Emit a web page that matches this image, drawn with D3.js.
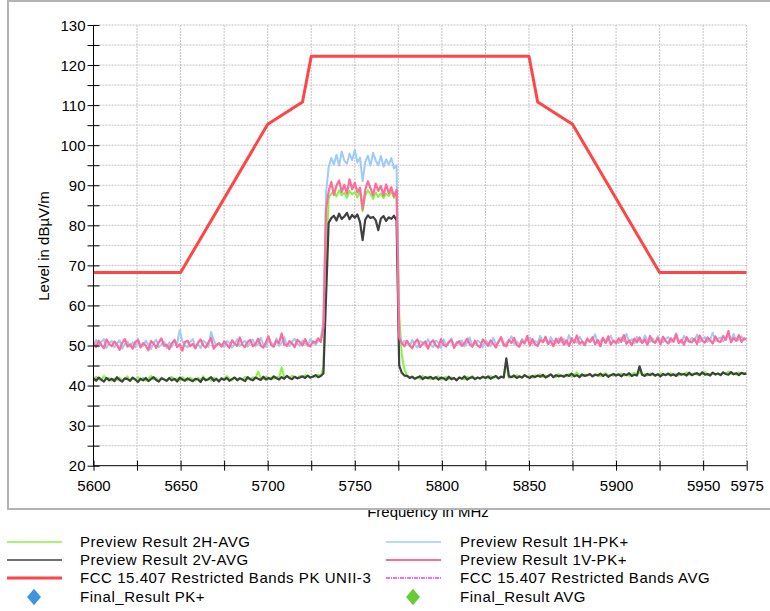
<!DOCTYPE html>
<html>
<head>
<meta charset="utf-8">
<script src="https://cdn.jsdelivr.net/npm/d3@7"></script>
<style>
  html, body { margin: 0; padding: 0; background: #fff; }
  svg { display: block; font-family: "Liberation Sans", Arial, sans-serif; }
</style>
</head>
<body>
<svg id="chart" width="770" height="611"></svg>
<script>
// ---------------- DATA ----------------
const xDomain = [5600, 5975];
const yDomain = [20, 130];
const xTickValues = [5600,5625,5650,5675,5700,5725,5750,5775,5800,5825,5850,5875,5900,5925,5950,5975];
const xTickLabels = [5600,5650,5700,5750,5800,5850,5900,5950,5975];
const yTickValues = [20,25,30,35,40,45,50,55,60,65,70,75,80,85,90,95,100,105,110,115,120,125,130];
const yTickLabels = [20,30,40,50,60,70,80,90,100,110,120,130];

// FCC 15.407 Restricted Bands PK UNII-3 limit line
const limitFreq  = [5600, 5650, 5700, 5720, 5725, 5850, 5855, 5875, 5925, 5975];
const limitLevel = [68.2, 68.2, 105.2, 110.8, 122.2, 122.2, 110.8, 105.2, 68.2, 68.2];

// sweep: 5600 MHz .. 5975 MHz, 1.5 MHz per point (251 points)
const sweepStart = 5600;
const sweepStep = 1.5;

const preview1V_PK = [
50.8,49.6,51.2,50.1,49.3,51.5,50.4,49.8,51.0,50.2,
48.9,50.7,51.6,49.7,50.3,49.2,50.9,51.3,49.5,50.6,
50.0,48.8,51.1,50.5,49.4,50.8,51.8,49.9,50.2,49.1,
50.6,51.4,49.6,50.3,48.7,50.9,51.2,49.8,50.4,49.3,
50.7,51.5,50.0,49.5,50.8,51.9,49.2,50.1,50.6,49.7,
51.0,50.3,49.4,51.3,50.5,49.9,52.0,50.2,49.6,50.9,
51.4,49.8,50.4,51.7,50.0,49.5,50.8,52.3,50.1,49.7,
51.2,50.6,53.0,50.3,49.9,51.1,50.5,49.6,51.4,50.8,
50.0,51.6,50.2,49.8,51.0,50.7,51.8,50.9,54.5,84.0,
88.5,90.8,87.6,89.9,91.2,88.3,90.1,87.9,91.5,89.0,
90.6,88.2,89.4,84.0,88.8,91.0,89.3,87.5,90.4,88.6,
89.8,87.4,90.2,88.0,89.5,87.2,88.9,52.0,50.6,49.8,
51.2,50.1,49.3,50.8,51.5,49.6,50.4,51.0,49.2,50.7,
51.3,50.0,49.5,51.6,50.2,49.8,50.9,51.4,49.4,50.5,
51.1,49.9,50.6,51.7,50.3,49.7,51.2,50.0,49.6,51.5,
50.8,49.9,51.3,50.4,49.5,51.0,52.1,50.2,49.8,51.4,
50.6,51.9,50.1,49.7,51.2,50.5,52.4,50.0,51.6,50.3,
49.9,51.4,50.8,52.2,50.4,51.1,49.8,51.7,50.6,52.0,
50.2,51.3,49.9,51.8,50.7,52.5,50.4,51.0,50.1,51.6,
50.9,52.1,50.3,51.4,49.8,51.9,50.6,52.3,50.2,51.2,
50.5,51.8,50.9,52.6,50.4,51.3,50.1,51.7,50.8,52.0,
50.6,51.5,50.2,52.4,51.0,50.7,51.9,50.3,52.2,51.1,
50.5,51.8,50.9,52.7,50.6,51.4,50.2,52.1,51.0,50.8,
51.7,50.4,52.5,51.2,50.7,52.0,51.3,50.5,52.3,51.1,
50.9,52.4,51.4,53.6,50.8,51.9,51.2,52.6,50.9,51.8,
51.5];

const preview1H_PK = [
50.2,51.4,49.8,50.9,51.6,49.4,50.7,51.1,49.6,50.5,
51.3,49.2,50.4,51.0,49.7,50.8,49.5,51.7,50.1,49.9,
51.2,50.3,49.1,50.6,51.5,49.6,50.2,51.0,49.4,50.8,
49.7,51.3,50.5,53.8,51.1,50.0,49.5,50.9,51.6,49.8,
50.4,49.3,51.2,50.7,49.6,53.4,51.4,49.9,50.5,50.2,
49.6,51.1,50.8,49.5,50.3,51.6,49.9,50.6,51.2,49.7,
50.9,51.5,49.8,50.4,51.9,50.2,49.6,51.3,50.7,50.0,
51.8,49.9,50.6,52.1,50.3,49.8,51.0,51.7,50.4,49.9,
51.3,50.5,49.9,51.6,50.8,50.2,51.1,51.9,56.0,88.0,
94.5,96.8,95.2,97.6,94.9,98.4,96.1,95.4,97.9,96.3,
98.8,95.7,96.9,91.0,95.8,97.4,94.9,98.1,96.2,95.0,
97.3,94.6,96.5,95.1,96.8,94.2,95.0,53.0,50.4,51.2,
50.6,49.8,51.4,50.2,49.5,51.1,50.7,49.9,51.6,50.3,
49.6,51.2,50.8,49.4,51.5,50.1,50.6,51.8,49.7,50.9,
50.4,51.3,49.8,50.7,52.0,49.9,50.5,51.2,50.8,49.6,
51.4,50.6,49.8,51.9,50.3,50.9,51.5,49.9,50.7,51.2,
52.3,50.4,51.0,50.2,51.7,50.8,51.3,52.0,50.5,51.1,
50.7,52.4,50.9,51.5,50.3,52.1,51.0,50.6,51.8,50.9,
51.6,50.4,52.6,50.9,51.3,50.7,52.2,51.1,50.5,51.9,
50.8,51.4,52.8,50.6,51.2,51.9,50.7,51.5,52.4,50.9,
51.3,50.6,52.0,51.1,52.9,50.8,51.6,50.5,52.2,51.0,
50.7,52.5,51.3,50.9,51.8,50.6,52.3,51.2,50.8,51.7,
52.1,50.9,51.5,53.1,51.0,50.7,52.4,51.3,50.9,51.9,
51.2,52.7,50.8,51.6,52.1,50.9,51.4,53.2,51.1,51.7,
52.0,51.0,51.8,52.5,51.3,52.9,51.1,51.6,52.3,51.4,
51.8];

const preview2V_AVG = [
41.8,41.2,42.0,41.5,41.0,41.9,41.3,41.7,41.1,42.1,
41.4,41.0,41.8,41.6,41.2,42.0,41.5,40.9,41.7,41.3,
41.9,41.1,41.6,42.1,41.4,41.0,41.8,41.5,41.2,41.9,
41.3,41.7,41.0,42.0,41.5,41.2,41.8,41.4,41.1,41.7,
41.5,40.9,41.9,41.3,41.6,42.1,41.2,41.7,41.0,41.8,
41.4,41.9,41.2,41.6,42.0,41.3,41.8,41.5,41.1,42.1,
41.6,41.3,42.0,41.7,41.4,42.2,41.5,41.9,41.6,42.3,
41.8,41.5,42.1,41.7,42.4,41.9,41.6,42.2,41.8,42.0,
42.3,41.9,42.5,42.0,42.2,42.6,42.1,42.4,43.0,62.0,
80.6,81.8,82.4,81.2,82.9,81.6,82.2,83.1,81.5,82.6,
81.9,82.7,80.8,76.3,81.4,82.5,81.8,82.1,81.3,78.8,
81.7,82.3,81.1,82.0,81.6,82.4,81.2,45.0,43.2,42.5,
42.4,41.9,42.2,41.7,42.0,42.3,41.6,42.1,41.8,42.2,
41.7,42.1,41.5,42.0,41.8,41.4,42.2,41.6,41.9,41.3,
42.0,41.7,42.3,41.5,41.9,42.1,41.6,42.0,41.8,42.2,
41.9,42.3,41.7,42.1,42.4,41.8,42.2,42.0,46.8,42.3,
42.1,42.5,41.9,42.3,42.0,42.6,42.2,41.9,42.4,42.1,
42.5,42.2,42.7,42.0,42.4,42.8,42.1,42.6,42.3,42.5,
42.2,42.7,42.4,43.0,42.3,42.6,42.1,42.8,42.4,42.6,
42.9,42.3,42.7,42.5,43.0,42.4,42.8,42.2,42.6,42.9,
42.5,42.8,42.3,42.9,42.6,43.1,42.4,42.7,42.5,44.8,
42.7,42.4,42.9,42.6,43.0,42.5,42.8,42.3,42.9,42.6,
43.0,42.5,42.8,42.4,43.1,42.7,42.9,42.5,43.2,42.6,
42.9,43.1,42.6,43.3,42.7,42.9,42.5,43.2,42.8,43.0,
42.6,43.3,42.9,42.7,43.4,42.8,43.1,42.6,43.2,42.9,
43.0];

const preview2H_AVG = [
41.5,42.2,41.7,41.3,42.4,41.6,41.9,41.2,41.8,41.4,
42.0,41.3,41.7,42.3,41.1,41.8,41.5,42.1,41.4,41.9,
41.2,41.7,42.4,41.5,41.9,41.3,42.0,41.6,41.1,41.8,
42.2,41.4,41.8,41.2,42.1,41.7,41.3,42.0,41.6,41.2,
41.9,41.5,42.3,41.4,41.8,41.2,42.0,41.6,41.3,41.9,
41.5,42.4,41.7,41.3,42.0,41.6,41.9,41.4,42.2,41.7,
41.5,42.1,41.8,43.5,41.9,41.6,42.3,41.8,42.0,41.7,
42.2,41.9,44.6,42.0,42.3,41.8,42.5,42.1,41.9,42.4,
42.1,42.6,42.3,41.9,42.5,42.2,42.7,42.4,44.5,70.0,
86.8,87.9,88.4,87.2,88.8,87.5,88.1,86.9,88.6,87.7,
88.3,87.0,88.5,83.5,87.4,88.7,87.8,86.6,88.2,87.1,
88.0,86.8,87.9,87.3,88.4,86.9,87.5,58.0,47.5,44.0,
42.6,42.0,42.3,41.8,42.1,41.7,42.4,41.9,42.2,41.6,
42.0,41.7,42.3,41.5,41.9,42.2,41.6,42.0,41.8,41.4,
42.1,41.8,41.5,42.2,41.9,42.4,41.7,42.0,41.6,42.3,
42.0,41.8,42.4,41.9,42.2,41.7,42.3,42.1,45.5,41.9,
42.3,42.0,42.6,42.2,41.9,42.5,42.1,42.4,42.0,42.6,
42.3,42.8,42.1,42.5,42.2,42.7,42.4,42.1,42.9,42.3,
42.6,42.4,42.9,42.2,42.7,43.3,42.5,42.3,42.8,42.5,
42.7,42.4,42.9,42.6,42.3,42.8,43.1,42.5,42.7,42.4,
42.8,42.6,43.0,42.5,42.7,42.4,42.9,43.2,42.6,43.5,
42.6,42.9,42.5,43.0,42.7,42.4,42.9,43.1,42.6,42.8,
42.7,43.1,42.6,42.9,42.5,43.0,42.8,43.3,42.7,42.9,
43.1,42.7,43.0,42.8,43.4,42.6,42.9,43.2,42.7,43.0,
42.8,43.2,43.0,43.5,42.9,43.1,42.7,43.3,43.0,43.2,
43.1];

const legendNames = [
  "Preview Result 2H-AVG", "Preview Result 1H-PK+",
  "Preview Result 2V-AVG", "Preview Result 1V-PK+",
  "FCC 15.407 Restricted Bands PK UNII-3", "FCC 15.407 Restricted Bands AVG",
  "Final_Result PK+", "Final_Result AVG"
];
const xTitle = "Frequency in MHz";
const yTitle = "Level in dBµV/m";

// ---------------- STYLE ----------------
const C = {
  green: "#84f542", gray: "#404040", red: "#ff4545", blue: "#9ecbfb",
  pink: "#ff6b9b", magenta: "#ff66ff", dBlue: "#3d95dc", dGreen: "#66cc33",
  grid: "#c4c4c4", frame: "#b4b4b4"
};
const plot = { left: 93.5, right: 746.7, top: 25, bottom: 465.7 };

const svg = d3.select("#chart");
const x = d3.scaleLinear().domain(xDomain).range([plot.left, plot.right]);
const y = d3.scaleLinear().domain(yDomain).range([plot.bottom, plot.top]);

// outer frame
svg.append("rect").attr("x", 8).attr("y", 1).attr("width", 780).attr("height", 508)
  .attr("fill", "none").attr("stroke", C.frame).attr("stroke-width", 2);

// grid
const grid = svg.append("g");
grid.selectAll("line.h").data(yTickValues.filter(v => v > yDomain[0])).join("line")
  .attr("x1", plot.left).attr("x2", plot.right)
  .attr("y1", d => y(d)).attr("y2", d => y(d))
  .attr("stroke", C.grid).attr("stroke-width", 1).attr("stroke-dasharray", "2,1");
grid.selectAll("line.v").data(xTickValues.filter(v => v > xDomain[0])).join("line")
  .attr("y1", plot.top).attr("y2", plot.bottom)
  .attr("x1", d => x(d)).attr("x2", d => x(d))
  .attr("stroke", C.grid).attr("stroke-width", 1).attr("stroke-dasharray", "2,1");

// traces
const line = d3.line().x((d, i) => x(sweepStart + i * sweepStep)).y(d => y(d));
svg.append("clipPath").attr("id", "pc").append("rect")
  .attr("x", plot.left).attr("y", plot.top)
  .attr("width", plot.right - plot.left).attr("height", plot.bottom - plot.top);
const traces = svg.append("g").attr("clip-path", "url(#pc)");
[[preview2H_AVG, C.green, 2], [preview2V_AVG, C.gray, 2.2],
 [preview1H_PK, C.blue, 2], [preview1V_PK, C.pink, 2.2]].forEach(([d, c, w]) => {
  traces.append("path").datum(d).attr("d", line)
    .attr("fill", "none").attr("stroke", c).attr("stroke-width", w)
    .attr("stroke-linejoin", "round");
});
const limitLine = d3.line().x(d => x(d[0])).y(d => y(d[1]));
traces.append("path").datum(limitFreq.map((f, i) => [f, limitLevel[i]]))
  .attr("d", limitLine).attr("fill", "none").attr("stroke", C.red)
  .attr("stroke-width", 3).attr("stroke-linejoin", "round");

// axes
const fontSize = 15;
const yAxis = svg.append("g").attr("transform", `translate(${plot.left},0)`)
  .call(d3.axisLeft(y).tickValues(yTickValues)
    .tickFormat(d => yTickLabels.includes(d) ? d : ""));
yAxis.select(".domain").attr("d", `M0,${plot.top}V${plot.bottom}`).attr("stroke", "#000");
yAxis.selectAll(".tick line").attr("x1", -6).attr("x2", 6).attr("stroke", "#000");
yAxis.selectAll(".tick text").attr("x", -8).attr("dy", "0.35em")
  .attr("font-size", fontSize).attr("fill", "#000")
  .attr("font-family", '"Liberation Sans", Arial, sans-serif');

const xAxis = svg.append("g").attr("transform", `translate(0,${plot.bottom})`)
  .call(d3.axisBottom(x).tickValues(xTickValues)
    .tickFormat(d => xTickLabels.includes(d) ? d : ""));
xAxis.select(".domain").attr("d", `M${plot.left},0H${plot.right}`).attr("stroke", "#000");
xAxis.selectAll(".tick line").attr("y1", -5).attr("y2", 5).attr("stroke", "#000");
xAxis.selectAll(".tick text").attr("y", 15).attr("dy", "0.71em")
  .attr("font-size", fontSize).attr("fill", "#000")
  .attr("font-family", '"Liberation Sans", Arial, sans-serif');

// axis titles
svg.append("text").attr("transform", "translate(49,246) rotate(-90)")
  .attr("text-anchor", "middle").attr("font-size", fontSize).text(yTitle);
svg.append("clipPath").attr("id", "tc").append("rect")
  .attr("x", 0).attr("y", 510).attr("width", 770).attr("height", 40);
svg.append("text").attr("clip-path", "url(#tc)")
  .attr("x", 428).attr("y", 517).attr("text-anchor", "middle")
  .attr("font-size", fontSize).text(xTitle);

// legend
const rows = [542, 560, 578, 597];
const cols = [{ lx1: 7, lx2: 62, tx: 80, mx: 34 }, { lx1: 386, lx2: 441, tx: 460, mx: 413 }];
const legendStyle = [
  { type: "line", color: C.green, w: 1.5 }, { type: "line", color: C.blue, w: 1.5 },
  { type: "line", color: C.gray, w: 1.5 }, { type: "line", color: C.pink, w: 2 },
  { type: "line", color: C.red, w: 3 }, { type: "line", color: C.magenta, w: 2, dash: "4,1,1,1" },
  { type: "diamond", color: C.dBlue }, { type: "diamond", color: C.dGreen }
];
const lg = svg.append("g");
legendNames.forEach((name, i) => {
  const col = cols[i % 2], ry = rows[Math.floor(i / 2)], st = legendStyle[i];
  if (st.type === "line") {
    lg.append("line").attr("x1", col.lx1).attr("x2", col.lx2).attr("y1", ry).attr("y2", ry)
      .attr("stroke", st.color).attr("stroke-width", st.w)
      .attr("stroke-dasharray", st.dash || null);
  } else {
    lg.append("path").attr("d", d3.symbol(d3.symbolDiamond2, 170)())
      .attr("transform", `translate(${col.mx},${ry}) scale(0.85,1)`).attr("fill", st.color);
  }
  lg.append("text").attr("x", col.tx).attr("y", ry).attr("dy", "0.35em")
    .attr("font-size", fontSize).attr("letter-spacing", "0.55px").text(name);
});
</script>
</body>
</html>
